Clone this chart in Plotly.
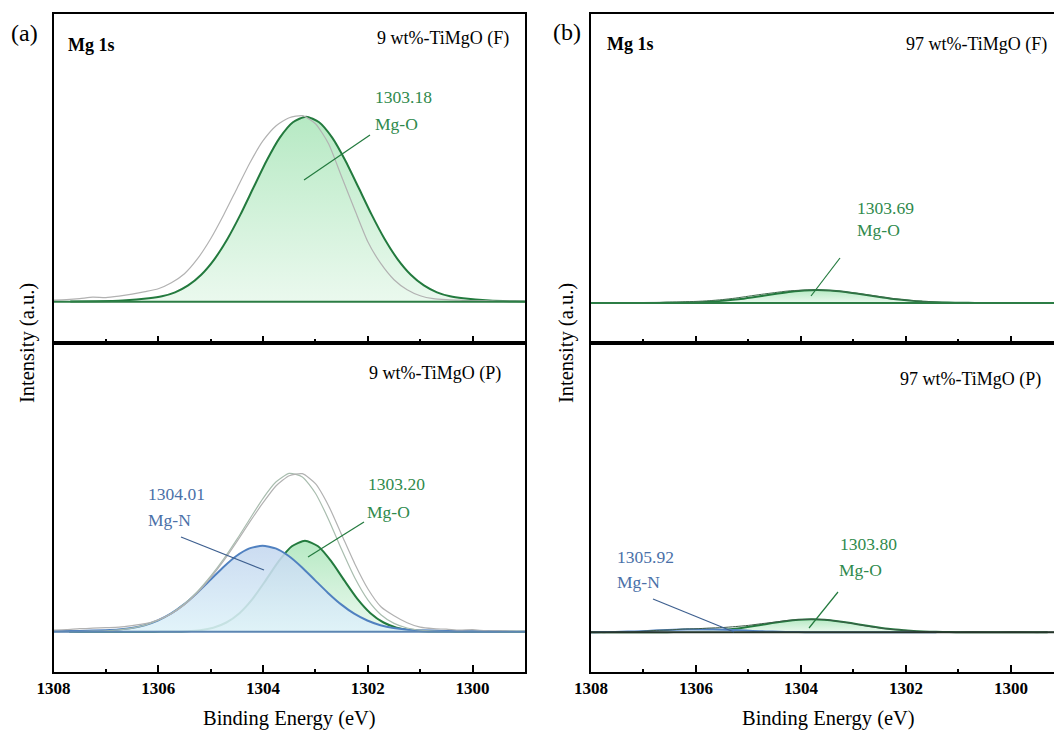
import plotly.graph_objects as go

W, H = 1054, 733
FONT = "Liberation Serif, Times New Roman, Times, serif"

# ---------------------------------------------------------------- data
# Binding-energy grid (eV) of the measured spectra
ENERGY_GRID = [1308.0, 1307.75, 1307.5, 1307.25, 1307.0, 1306.75, 1306.5, 1306.25,
               1306.0, 1305.75, 1305.5, 1305.25, 1305.0, 1304.75, 1304.5, 1304.25,
               1304.0, 1303.75, 1303.5, 1303.25, 1303.0, 1302.75, 1302.5, 1302.25,
               1302.0, 1301.75, 1301.5, 1301.25, 1301.0, 1300.75, 1300.5, 1300.25,
               1300.0, 1299.75, 1299.5, 1299.25, 1299.0]

# Energy offsets (eV) from a fitted component's centre
PROFILE_OFFSETS = [-4.5, -4.0, -3.5, -3.0, -2.75, -2.5, -2.25, -2.0, -1.75, -1.5, -1.25,
                   -1.0, -0.75, -0.5, -0.25, 0.0, 0.25, 0.5, 0.75, 1.0, 1.25, 1.5,
                   1.75, 2.0, 2.25, 2.5, 2.75, 3.0, 3.5, 4.0, 4.5]

# 9 wt%-TiMgO (F)
F9_MGO_CENTER = 1303.18
F9_MGO_PROFILE = [0.1, 0.4, 1.2, 3.4, 5.4, 9.4, 16.3, 27.0, 42.4, 62.7, 87.3, 114.4, 141.2,
                  164.1, 179.5, 185.0, 179.5, 164.1, 141.2, 114.4, 87.3, 62.7, 42.4, 27.0,
                  16.3, 9.4, 5.4, 3.4, 1.2, 0.4, 0.1]
F9_RAW = [1.5, 2.0, 3.0, 4.5, 4.0, 5.5, 7.5, 10.0, 13.0, 19.0, 28.0, 43.0, 63.0, 87.0,
          113.0, 139.0, 161.0, 176.0, 184.0, 186.0, 178.0, 158.0, 125.0, 92.0, 60.0, 38.0,
          22.0, 12.0, 6.0, 3.0, 2.0, 1.5, 1.0, 1.0, 0.5, 0.5, 0.5]

# 9 wt%-TiMgO (P)
P9_MGN_CENTER = 1304.01
P9_MGN_PROFILE = [0.2, 0.4, 0.8, 1.5, 2.1, 3.6, 6.5, 11.2, 18.0, 27.3, 38.8, 51.6, 64.5,
                  75.7, 83.3, 86.0, 83.3, 75.7, 64.5, 51.6, 38.8, 27.3, 18.0, 11.2, 6.5,
                  3.6, 2.1, 1.5, 0.8, 0.4, 0.2]
P9_MGO_CENTER = 1303.20
P9_MGO_PROFILE = [0.0, 0.0, 0.0, 0.05, 0.1, 0.15, 0.5, 1.5, 4.0, 9.2, 18.5, 32.8, 51.3,
                  70.5, 85.4, 91.0, 85.4, 70.5, 51.3, 32.8, 18.5, 9.2, 4.0, 1.5, 0.5,
                  0.15, 0.1, 0.05, 0.0, 0.0, 0.0]
P9_ENVELOPE = [0.0, 0.1, 0.2, 0.5, 0.9, 1.9, 3.6, 6.6, 11.4, 18.5, 28.1, 40.4, 55.5, 72.8,
               92.3, 113.0, 133.4, 149.9, 158.3, 154.8, 138.5, 112.3, 82.1, 53.9, 31.8,
               17.0, 8.3, 3.7, 1.5, 0.5, 0.2, 0.1, 0.0, 0.0, 0.0, 0.0, 0.0]
P9_RAW = [1.5, 2.0, 3.0, 3.5, 4.0, 4.5, 6.0, 8.0, 12.0, 18.0, 27.0, 39.0, 54.0, 71.0,
          90.0, 110.0, 129.0, 146.0, 156.0, 158.0, 148.0, 126.0, 97.0, 68.0, 43.0, 25.0,
          16.0, 9.0, 4.5, 3.0, 2.5, 1.5, 2.0, 1.0, 1.0, 0.5, 0.5]

# 97 wt%-TiMgO (F)
F97_MGO_CENTER = 1303.69
F97_MGO_PROFILE = [0.0, 0.0, 0.0, 0.1, 0.2, 0.4, 0.8, 1.4, 2.4, 3.7, 5.5, 7.5, 9.5, 11.3,
                   12.6, 13.0, 12.6, 11.3, 9.5, 7.5, 5.5, 3.7, 2.4, 1.4, 0.8, 0.4, 0.2,
                   0.1, 0.0, 0.0, 0.0]
F97_RAW = [0.3, -0.2, 0.4, 0.1, 0.5, 0.6, 0.9, 1.2, 1.6, 2.3, 3.4, 4.9, 6.8, 8.7, 10.4,
           12.0, 12.8, 13.2, 12.7, 11.8, 10.2, 8.3, 6.4, 4.5, 3.0, 1.9, 1.1, 0.6, 0.2,
           0.4, -0.1, 0.3, 0.0, 0.4, -0.2, 0.2, 0.1]

# 97 wt%-TiMgO (P)
P97_MGN_CENTER = 1305.92
P97_MGN_PROFILE = [0.0, 0.0, 0.0, 0.0, 0.0, 0.0, 0.05, 0.1, 0.3, 0.5, 0.9, 1.4, 2.0, 2.5,
                   2.9, 3.0, 2.9, 2.5, 2.0, 1.4, 0.9, 0.5, 0.3, 0.1, 0.05, 0.0, 0.0, 0.0,
                   0.0, 0.0, 0.0]
P97_MGO_CENTER = 1303.80
P97_MGO_PROFILE = [0.0, 0.0, 0.0, 0.05, 0.1, 0.3, 0.6, 1.1, 2.0, 3.2, 5.0, 7.0, 9.2, 11.1,
                   12.5, 13.0, 12.5, 11.1, 9.2, 7.0, 5.0, 3.2, 2.0, 1.1, 0.6, 0.3, 0.1,
                   0.05, 0.0, 0.0, 0.0]
P97_RAW = [0.2, -0.3, 0.3, 0.2, 1.1, 1.9, 2.3, 3.2, 3.5, 4.2, 4.7, 5.7, 6.9, 8.6, 10.1,
           11.9, 12.7, 13.1, 12.4, 10.6, 8.7, 6.2, 4.3, 2.8, 1.9, 0.9, 0.6, 0.1, -0.1,
           0.3, 0.0, -0.2, 0.3, 0.1, -0.3, 0.2, 0.0]

TICK_VALUES = [1308, 1306, 1304, 1302, 1300]
TICK_LABELS = ["1308", "1306", "1304", "1302", "1300"]
MINOR_TICKS = [1307, 1305, 1303, 1301, 1299]
SAMPLE_NAMES = ["9 wt%-TiMgO (F)", "9 wt%-TiMgO (P)", "97 wt%-TiMgO (F)", "97 wt%-TiMgO (P)"]

# ---------------------------------------------------------------- styles
GREEN_LINE = "#237a3e"
GREEN_TEXT = "#2f8a4c"
GREEN_FILL = [[0.0, "rgba(232,248,236,0.9)"], [1.0, "rgba(178,232,192,0.95)"]]
BLUE_LINE = "#5081c0"
BLUE_TEXT = "#4a70a8"
BLUE_FILL = [[0.0, "rgba(222,242,249,0.88)"], [1.0, "rgba(196,215,239,0.88)"]]
RAW_GRAY = "#b2b2b2"
ENV_GRAY = "#a9bdaf"


def px(x):
    return x / W


def py(y):
    return 1 - y / H


fig = go.Figure()


def component(center, profile, line_color, fill_scale, xa, ya):
    fig.add_trace(go.Scatter(
        x=[center + o for o in PROFILE_OFFSETS], y=profile, mode="lines",
        line=dict(color=line_color, width=2, shape="spline", smoothing=0.6),
        fill="tozeroy",
        fillgradient=dict(type="vertical", colorscale=fill_scale, start=0, stop=max(profile)),
        xaxis=xa, yaxis=ya, showlegend=False, hoverinfo="skip"))


def curve(values, color, width, xa, ya):
    fig.add_trace(go.Scatter(
        x=ENERGY_GRID, y=values, mode="lines",
        line=dict(color=color, width=width, shape="spline", smoothing=0.6),
        xaxis=xa, yaxis=ya, showlegend=False, hoverinfo="skip"))


def baseline(color, xa, ya):
    fig.add_trace(go.Scatter(
        x=[ENERGY_GRID[0], ENERGY_GRID[-1]], y=[0, 0], mode="lines",
        line=dict(color=color, width=2), xaxis=xa, yaxis=ya,
        showlegend=False, hoverinfo="skip"))


# (a) top: 9 wt% fresh
component(F9_MGO_CENTER, F9_MGO_PROFILE, GREEN_LINE, GREEN_FILL, "x", "y")
curve(F9_RAW, RAW_GRAY, 1.2, "x", "y")
baseline("#2c7d45", "x", "y")

# (a) bottom: 9 wt% used
component(P9_MGO_CENTER, P9_MGO_PROFILE, GREEN_LINE, GREEN_FILL, "x2", "y2")
component(P9_MGN_CENTER, P9_MGN_PROFILE, BLUE_LINE, BLUE_FILL, "x2", "y2")
curve(P9_ENVELOPE, ENV_GRAY, 1.2, "x2", "y2")
curve(P9_RAW, RAW_GRAY, 1.2, "x2", "y2")
baseline("#5d86b3", "x2", "y2")

# (b) top: 97 wt% fresh
component(F97_MGO_CENTER, F97_MGO_PROFILE, GREEN_LINE, GREEN_FILL, "x3", "y3")
curve(F97_RAW, "#3f6b4c", 1.0, "x3", "y3")
baseline("#2c7d45", "x3", "y3")

# (b) bottom: 97 wt% used
component(P97_MGO_CENTER, P97_MGO_PROFILE, GREEN_LINE, GREEN_FILL, "x4", "y4")
component(P97_MGN_CENTER, P97_MGN_PROFILE, BLUE_LINE, BLUE_FILL, "x4", "y4")
curve(P97_RAW, "#3d5a47", 1.0, "x4", "y4")
baseline("#27362c", "x4", "y4")


def xaxis(domain, rng, anchor, labels):
    return dict(
        domain=domain, range=rng, anchor=anchor, automargin=False,
        showgrid=False, zeroline=False,
        showline=True, linecolor="black", linewidth=2, mirror=True,
        tickmode="array", tickvals=TICK_VALUES, ticktext=TICK_LABELS,
        ticks="inside", ticklen=7, tickwidth=2, tickcolor="black",
        minor=dict(tickmode="array", tickvals=MINOR_TICKS, ticks="inside",
                   ticklen=3.5, tickwidth=2, tickcolor="black"),
        showticklabels=labels,
        tickfont=dict(family=FONT, size=17, color="black", weight="bold"))


def yaxis(domain, rng, anchor, mirror):
    return dict(
        domain=domain, range=rng, anchor=anchor, automargin=False,
        showgrid=False, zeroline=False,
        showline=True, linecolor="black", linewidth=2, mirror=mirror,
        showticklabels=False, ticks="")


LEFT = [px(53.5), px(525)]
RIGHT = [px(591), 1.0]
TOP = [py(342.5), py(13.5)]
BOTTOM = [py(672), py(342.5)]

annotations = []


def text(s, x, y, size, color="black", xanchor="left", bold=False, angle=0):
    annotations.append(dict(
        text=s, x=px(x), y=py(y), xref="paper", yref="paper", xanchor=xanchor,
        yanchor="middle", showarrow=False, textangle=angle,
        font=dict(family=FONT, size=size, color=color, weight="bold" if bold else "normal")))


shapes = []


def leader(x0, y0, x1, y1, color):
    shapes.append(dict(type="line", xref="paper", yref="paper", x0=px(x0), y0=py(y0),
                       x1=px(x1), y1=py(y1), line=dict(color=color, width=1.2)))


# panel letters, element and sample names
text("(a)", 24, 33, 24, xanchor="center")
text("(b)", 567, 32, 24, xanchor="center")
text("Mg 1s", 66, 45, 18, bold=True)
text("Mg 1s", 605, 44, 18, bold=True)
text(SAMPLE_NAMES[0], 511, 39, 18, xanchor="right")
text(SAMPLE_NAMES[1], 503, 373, 18, xanchor="right")
text(SAMPLE_NAMES[2], 1049, 44, 18, xanchor="right")
text(SAMPLE_NAMES[3], 1043, 379, 18, xanchor="right")

# axis titles
text("Intensity (a.u.)", 27, 343, 20.5, xanchor="center", angle=-90)
text("Intensity (a.u.)", 566, 343, 20.5, xanchor="center", angle=-90)
text("Binding Energy (eV)", 289, 718, 20.5, xanchor="center")
text("Binding Energy (eV)", 828, 718, 20.5, xanchor="center")

# peak assignments
text(f"{F9_MGO_CENTER:.2f}", 373, 97, 17.5, GREEN_TEXT)
text("Mg-O", 373, 124, 17.5, GREEN_TEXT)
leader(370, 135, 304, 180, GREEN_LINE)

text(f"{P9_MGN_CENTER:.2f}", 146, 494, 17.5, BLUE_TEXT)
text("Mg-N", 146, 520, 17.5, BLUE_TEXT)
leader(181, 537, 264, 570, "#3d5f8f")
text(f"{P9_MGO_CENTER:.2f}", 366, 484, 17.5, GREEN_TEXT)
text("Mg-O", 365, 512, 17.5, GREEN_TEXT)
leader(364, 522, 308, 557, GREEN_LINE)

text(f"{F97_MGO_CENTER:.2f}", 855, 208, 17.5, GREEN_TEXT)
text("Mg-O", 855, 230, 17.5, GREEN_TEXT)
leader(840, 258, 811, 296, GREEN_LINE)

text(f"{P97_MGN_CENTER:.2f}", 615, 557, 17.5, BLUE_TEXT)
text("Mg-N", 615, 582, 17.5, BLUE_TEXT)
leader(653, 599, 734, 632, "#3d5f8f")
text(f"{P97_MGO_CENTER:.2f}", 838, 544, 17.5, GREEN_TEXT)
text("Mg-O", 837, 570, 17.5, GREEN_TEXT)
leader(838, 592, 809, 628, GREEN_LINE)

fig.update_layout(
    width=W, height=H, autosize=False,
    margin=dict(l=0, r=0, t=0, b=0, pad=0),
    paper_bgcolor="white", plot_bgcolor="white",
    font=dict(family=FONT, color="black"),
    xaxis=xaxis(LEFT, [1308, 1299], "y", False),
    yaxis=yaxis(TOP, [-40.8, 288.2], "x", True),
    xaxis2=xaxis(LEFT, [1308, 1299], "y2", True),
    yaxis2=yaxis(BOTTOM, [-40.3, 289.2], "x2", True),
    xaxis3=xaxis(RIGHT, [1308, 1299.18], "y3", False),
    yaxis3=yaxis(TOP, [-39.5, 289.5], "x3", False),
    xaxis4=xaxis(RIGHT, [1308, 1299.18], "y4", True),
    yaxis4=yaxis(BOTTOM, [-39.7, 289.6], "x4", False),
    annotations=annotations, shapes=shapes,
)

fig.write_html("out.html")
